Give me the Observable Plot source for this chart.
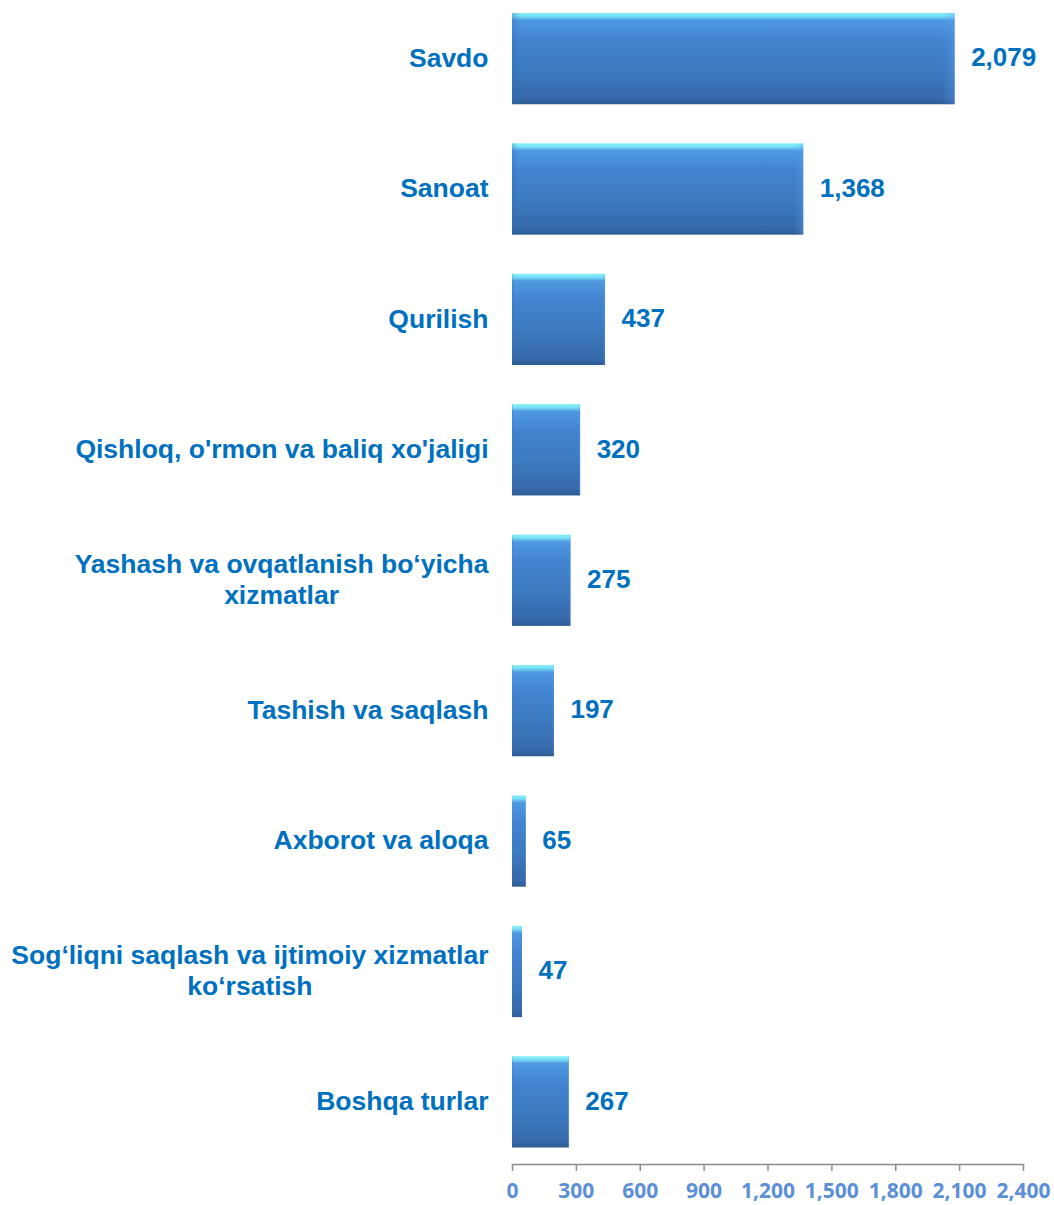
<!DOCTYPE html>
<html>
<head>
<meta charset="utf-8">
<script src="https://cdn.jsdelivr.net/npm/d3@7"></script>
<script src="https://cdn.jsdelivr.net/npm/@observablehq/plot@0.6"></script>
<style>
  html, body { margin: 0; padding: 0; background: #fff; }
  #chart svg { display: block; }
</style>
</head>
<body>
<div id="chart"></div>
<script>
const categories = [
  "Savdo",
  "Sanoat",
  "Qurilish",
  "Qishloq, o'rmon va baliq xo'jaligi",
  "Yashash va ovqatlanish bo‘yicha\nxizmatlar",
  "Tashish va saqlash",
  "Axborot va aloqa",
  "Sog‘liqni saqlash va ijtimoiy xizmatlar\nko‘rsatish",
  "Boshqa turlar"
];
const values = [2079, 1368, 437, 320, 275, 197, 65, 47, 267];
const xTicks = [0, 300, 600, 900, 1200, 1500, 1800, 2100, 2400];

const data = categories.map((c, i) => ({category: c, value: values[i]}));

const labelColor = "#0070c0";
const labelFont = "'Liberation Sans', Arial, sans-serif";
const fmt = d3.format(",");

const chart = Plot.plot({
  width: 1054,
  height: 1205,
  marginLeft: 512,
  marginRight: 31,
  marginTop: 0,
  marginBottom: 41,
  x: {domain: [0, 2400], axis: null},
  y: {domain: categories, axis: null, paddingInner: 0.3, paddingOuter: 0.113, align: 0.44, round: false},
  marks: [
    Plot.barX(data, {
      x: "value", y: "category",
      fill: "url(#barGrad)",
      style: {filter: "url(#barShadow)"}
    }),
    Plot.barX(data, {
      x: "value", y: "category",
      fill: "url(#edgeGrad)"
    }),
    Plot.text(data, {
      x: 0, y: "category", text: "category",
      dx: -24, dy: -2, textAnchor: "end", lineAnchor: "middle", lineHeight: 1.15,
      fill: labelColor, fontSize: 26.5, fontWeight: "bold", fontFamily: labelFont,
      className: "cat-labels"
    }),
    Plot.text(data, {
      x: "value", y: "category", text: d => fmt(d.value),
      dx: 16, dy: -1, textAnchor: "start",
      fill: labelColor, fontSize: 26, fontWeight: "bold", fontFamily: labelFont
    }),
    Plot.frame({anchor: "bottom", stroke: "#8c8c8c", strokeWidth: 1.5}),
    Plot.axisX({
      ticks: xTicks, tickFormat: d => fmt(d), tickSize: 7, tickPadding: 12,
      stroke: "#8c8c8c", color: "#5b8fd8", strokeWidth: 1.5,
      fontSize: 21, fontWeight: "bold", fontFamily: "'Open Sans', sans-serif",
      label: null
    })
  ]
});

d3.select(chart).insert("defs", ":first-child").html(`
  <linearGradient id="barGrad" x1="0" y1="0" x2="0" y2="1">
    <stop offset="0" stop-color="#86eefa"/>
    <stop offset="0.035" stop-color="#78e2f6"/>
    <stop offset="0.08" stop-color="#4f98e2"/>
    <stop offset="0.3" stop-color="#4283d0"/>
    <stop offset="0.6" stop-color="#3d7bc2"/>
    <stop offset="0.93" stop-color="#3669aa"/>
    <stop offset="1" stop-color="#2d5b92"/>
  </linearGradient>
  <linearGradient id="edgeGrad" x1="0" y1="0" x2="1" y2="0">
    <stop offset="0" stop-color="#2a6ab4" stop-opacity="0.35"/>
    <stop offset="0.02" stop-color="#2a6ab4" stop-opacity="0.0"/>
    <stop offset="0.97" stop-color="#5aa0f0" stop-opacity="0.0"/>
    <stop offset="1" stop-color="#5aa0f0" stop-opacity="0.35"/>
  </linearGradient>
  <filter id="barShadow" x="-5%" y="-5%" width="115%" height="125%">
    <feDropShadow dx="3" dy="5" stdDeviation="1.2" flood-color="#000" flood-opacity="0.16"/>
  </filter>
`);

document.getElementById("chart").appendChild(chart);

// Make x tick labels bold
d3.select(chart).selectAll("g[aria-label='x-axis tick label']").attr("font-weight", "bold");

// Center multi-line category labels within their widest line, right edge kept at the anchor
d3.select(chart).selectAll(".cat-labels text").each(function() {
  const tspans = this.querySelectorAll("tspan");
  if (tspans.length > 1) {
    let maxW = 0;
    tspans.forEach(t => { maxW = Math.max(maxW, t.getComputedTextLength()); });
    this.setAttribute("text-anchor", "middle");
    tspans.forEach(t => t.setAttribute("x", -maxW / 2));
  }
});
</script>
</body>
</html>
